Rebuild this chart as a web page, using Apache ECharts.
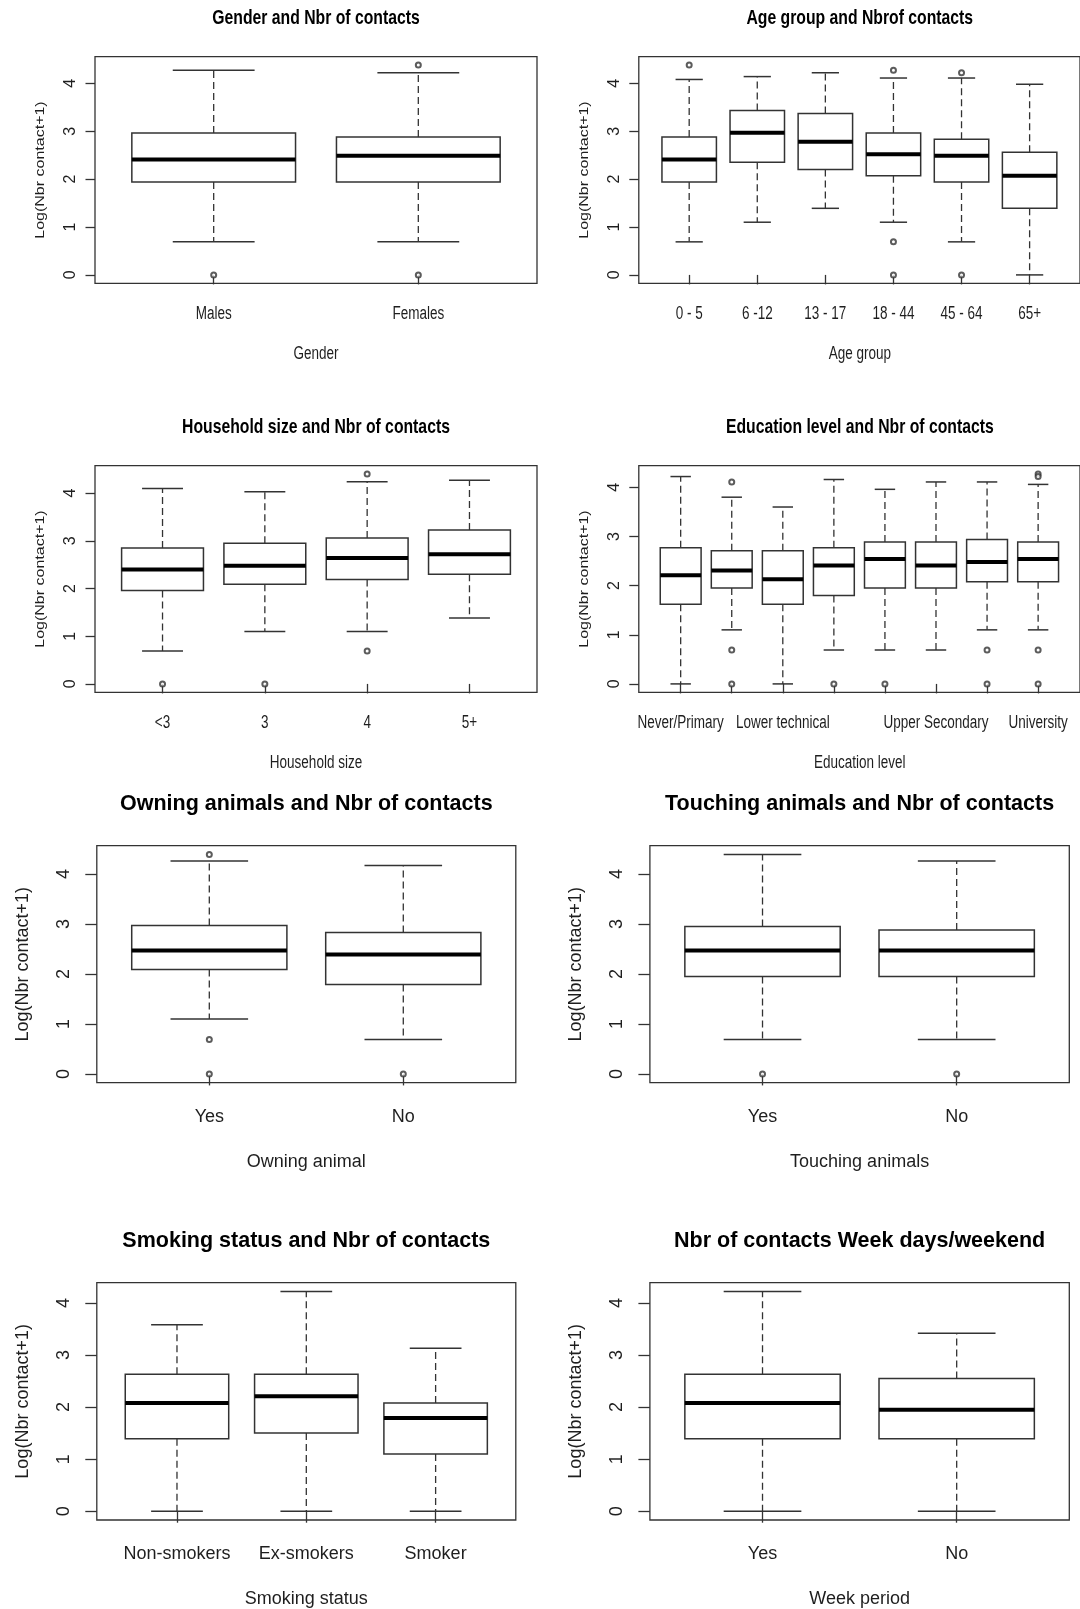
<!DOCTYPE html>
<html>
<head>
<meta charset="utf-8">
<script src="https://cdn.jsdelivr.net/npm/echarts@6/dist/echarts.min.js"></script>
<style>
  html, body { margin: 0; padding: 0; background: #fff; }
  #chart { width: 1080px; height: 1609px; }
</style>
</head>
<body>
<div id="chart"></div>
<script>
// Box statistics per group: [lower whisker, Q1, median, Q3, upper whisker]
// Values are log(number of contacts + 1).

const genderCats = ['Males', 'Females'];
const genderBoxes = [
  [0.69, 1.94, 2.41, 2.96, 4.27],
  [0.69, 1.94, 2.49, 2.88, 4.22]
];
const genderOutliers = [[0], [0, 4.38]];

const ageCats = ['0 - 5', '6 -12', '13 - 17', '18 - 44', '45 - 64', '65+'];
const ageBoxes = [
  [0.69, 1.94, 2.41, 2.88, 4.08],
  [1.10, 2.35, 2.97, 3.43, 4.14],
  [1.39, 2.20, 2.78, 3.37, 4.22],
  [1.10, 2.07, 2.52, 2.96, 4.11],
  [0.69, 1.94, 2.49, 2.83, 4.11],
  [0.00, 1.39, 2.07, 2.56, 3.98]
];
const ageOutliers = [[4.38], [], [], [4.27, 0.69, 0], [4.22, 0], []];

const householdCats = ['<3', '3', '4', '5+'];
const householdBoxes = [
  [0.69, 1.96, 2.40, 2.85, 4.10],
  [1.10, 2.09, 2.48, 2.95, 4.03],
  [1.10, 2.19, 2.64, 3.06, 4.24],
  [1.38, 2.30, 2.72, 3.23, 4.27]
];
const householdOutliers = [[0], [0], [4.40, 0.69], []];

// Only some education levels carry a printed label on the axis
const educationTickLabels = ['Never/Primary', '', 'Lower technical', '', '', 'Upper Secondary', '', 'University'];
const educationBoxes = [
  [0.00, 1.62, 2.21, 2.77, 4.22],
  [1.10, 1.95, 2.31, 2.71, 3.80],
  [0.00, 1.62, 2.13, 2.71, 3.60],
  [0.69, 1.80, 2.41, 2.77, 4.16],
  [0.69, 1.95, 2.54, 2.89, 3.96],
  [0.69, 1.95, 2.41, 2.89, 4.11],
  [1.10, 2.08, 2.48, 2.94, 4.11],
  [1.10, 2.08, 2.54, 2.89, 4.06]
];
const educationOutliers = [[], [4.11, 0.69, 0], [], [0], [0], [], [0.69, 0], [4.27, 4.22, 0.69, 0]];

const owningCats = ['Yes', 'No'];
const owningBoxes = [
  [1.10, 2.09, 2.47, 2.97, 4.26],
  [0.69, 1.79, 2.39, 2.83, 4.17]
];
const owningOutliers = [[4.39, 0.69, 0], [0]];

const touchingCats = ['Yes', 'No'];
const touchingBoxes = [
  [0.69, 1.95, 2.47, 2.95, 4.39],
  [0.69, 1.95, 2.47, 2.88, 4.26]
];
const touchingOutliers = [[0], [0]];

const smokingCats = ['Non-smokers', 'Ex-smokers', 'Smoker'];
const smokingBoxes = [
  [0.00, 1.39, 2.08, 2.63, 3.58],
  [0.00, 1.50, 2.21, 2.63, 4.22],
  [0.00, 1.10, 1.79, 2.08, 3.13]
];
const smokingOutliers = [[], [], []];

const weekCats = ['Yes', 'No'];
const weekBoxes = [
  [0.00, 1.39, 2.08, 2.63, 4.22],
  [0.00, 1.39, 1.95, 2.55, 3.42]
];
const weekOutliers = [[], []];

const yTicks = [0, 1, 2, 3, 4];
const yAxisTitle = 'Log(Nbr contact+1)';

// ---- styling ----
const INK = '#333';
const TEXT = '#1e1e1e';
const SANS = "'Liberation Sans', Arial, sans-serif";
const BOX_HALF = 0.4;     // half box width in category units
const CAP_HALF = 0.2;     // half staple width

// The upper four panels use horizontally compressed lettering (squash < 1);
// their titles, tick labels and axis titles are drawn as scaled text overlays.
const compact = { squash: 0.75, titleSize: 21, labelSize: 18, ySize: 16,
  tick: 9.5, yLabelMargin: 16, titleY: -38.5, labelY: 30.5, nameY: 70.5, yNameX: -54.5 };
const wide = { squash: 1, titleSize: 21.5, labelSize: 18, ySize: 18,
  tick: 11.5, yLabelMargin: 24, yNameGap: 65, xLabelMargin: 25, xNameGap: 70, titleOffset: 53 };

const panels = [
  { title: 'Gender and Nbr of contacts', xName: 'Gender', cats: genderCats, boxes: genderBoxes, outliers: genderOutliers,
    left: 95, top: 56.7, width: 442, height: 226.6, s: compact },
  { title: 'Age group and Nbrof contacts', xName: 'Age group', cats: ageCats, boxes: ageBoxes, outliers: ageOutliers,
    left: 638.8, top: 56.7, width: 442, height: 226.6, s: compact },
  { title: 'Household size and Nbr of contacts', xName: 'Household size', cats: householdCats, boxes: householdBoxes, outliers: householdOutliers,
    left: 95, top: 465.7, width: 442, height: 226.6, s: compact },
  { title: 'Education level and Nbr of contacts', xName: 'Education level', cats: educationTickLabels, boxes: educationBoxes, outliers: educationOutliers,
    left: 638.8, top: 465.7, width: 442, height: 226.6, s: compact },
  { title: 'Owning animals and Nbr of contacts', xName: 'Owning animal', cats: owningCats, boxes: owningBoxes, outliers: owningOutliers,
    left: 96.8, top: 845.7, width: 419, height: 237, s: wide },
  { title: 'Touching animals and Nbr of contacts', xName: 'Touching animals', cats: touchingCats, boxes: touchingBoxes, outliers: touchingOutliers,
    left: 649.9, top: 845.7, width: 419.4, height: 237, s: wide },
  { title: 'Smoking status and Nbr of contacts', xName: 'Smoking status', cats: smokingCats, boxes: smokingBoxes, outliers: smokingOutliers,
    left: 96.8, top: 1282.7, width: 419, height: 237.3, s: wide },
  { title: 'Nbr of contacts Week days/weekend', xName: 'Week period', cats: weekCats, boxes: weekBoxes, outliers: weekOutliers,
    left: 649.9, top: 1282.7, width: 419.4, height: 237.3, s: wide }
];

// Box-and-whisker glyph in the classic style: dashed whiskers, staples, heavy median
function renderBox(params, api) {
  const x = api.value(0);
  const lo = api.coord([x, api.value(1)]);
  const q1 = api.coord([x, api.value(2)]);
  const md = api.coord([x, api.value(3)]);
  const q3 = api.coord([x, api.value(4)]);
  const hi = api.coord([x, api.value(5)]);
  const half = api.size([BOX_HALF, 0])[0];
  const cap = api.size([CAP_HALF, 0])[0];
  const cx = md[0];
  const solid = { stroke: INK, lineWidth: 1.5 };
  const dashed = { stroke: INK, lineWidth: 1.3, lineDash: [7, 4] };
  return {
    type: 'group',
    children: [
      { type: 'line', shape: { x1: cx, y1: q3[1], x2: cx, y2: hi[1] }, style: dashed },
      { type: 'line', shape: { x1: cx, y1: q1[1], x2: cx, y2: lo[1] }, style: dashed },
      { type: 'line', shape: { x1: cx - cap, y1: hi[1], x2: cx + cap, y2: hi[1] }, style: solid },
      { type: 'line', shape: { x1: cx - cap, y1: lo[1], x2: cx + cap, y2: lo[1] }, style: solid },
      { type: 'rect', shape: { x: cx - half, y: q3[1], width: 2 * half, height: q1[1] - q3[1] },
        style: { fill: '#fff', stroke: INK, lineWidth: 1.5 } },
      { type: 'line', shape: { x1: cx - half, y1: md[1], x2: cx + half, y2: md[1] },
        style: { stroke: '#000', lineWidth: 4 } }
    ]
  };
}

const option = {
  backgroundColor: '#fff',
  animation: false,
  title: [], grid: [], xAxis: [], yAxis: [], series: []
};

panels.forEach((p, i) => {
  const n = p.boxes.length;
  const s = p.s;
  const compressed = s.squash < 1;
  p.positions = p.boxes.map((_, k) => k + 1);

  // y range: data range padded by 4% on each side
  let lo = Infinity, hi = -Infinity;
  p.boxes.forEach((b, k) => {
    lo = Math.min(lo, b[0], ...p.outliers[k]);
    hi = Math.max(hi, b[4], ...p.outliers[k]);
  });
  const pad = 0.04 * (hi - lo);
  p.yMin = lo - pad;

  if (!compressed) {
    option.title.push({
      text: p.title,
      left: p.left + p.width / 2,
      top: p.top - s.titleOffset,
      textAlign: 'center',
      padding: 0,
      textStyle: { fontFamily: SANS, fontSize: s.titleSize, fontWeight: 'bold', color: '#000' }
    });
  }

  option.grid.push({
    left: p.left, top: p.top, width: p.width, height: p.height,
    show: true, borderColor: INK, borderWidth: 1.3, backgroundColor: 'transparent'
  });

  option.xAxis.push({
    type: 'value', gridIndex: i,
    min: 0.5 - 0.04 * n, max: n + 0.5 + 0.04 * n,
    axisLine: { show: false },
    splitLine: { show: false },
    axisTick: { show: true, inside: false, length: s.tick, customValues: p.positions,
      lineStyle: { color: INK, width: 1.3 } },
    axisLabel: {
      show: !compressed,
      customValues: p.positions, margin: s.xLabelMargin,
      formatter: v => p.cats[Math.round(v) - 1] || '',
      fontFamily: SANS, fontSize: s.labelSize, color: TEXT
    },
    name: compressed ? '' : p.xName, nameLocation: 'middle', nameGap: s.xNameGap,
    nameTextStyle: { fontFamily: SANS, fontSize: s.labelSize, color: TEXT }
  });

  option.yAxis.push({
    type: 'value', gridIndex: i,
    min: lo - pad, max: hi + pad,
    axisLine: { show: false },
    splitLine: { show: false },
    axisTick: { show: true, inside: false, length: s.tick, customValues: yTicks,
      lineStyle: { color: INK, width: 1.3 } },
    axisLabel: {
      customValues: yTicks, rotate: 90, margin: s.yLabelMargin,
      fontFamily: SANS, fontSize: s.ySize, color: TEXT
    },
    name: compressed ? '' : yAxisTitle, nameLocation: 'middle', nameRotate: 90, nameGap: s.yNameGap,
    nameTextStyle: { fontFamily: SANS, fontSize: s.ySize, color: TEXT }
  });

  option.series.push({
    type: 'custom', xAxisIndex: i, yAxisIndex: i,
    renderItem: renderBox,
    encode: { x: 0, y: [1, 2, 3, 4, 5] },
    data: p.boxes.map((b, k) => [p.positions[k], ...b]),
    z: 2
  });

  const pts = [];
  p.outliers.forEach((list, k) => list.forEach(v => pts.push([p.positions[k], v])));
  option.series.push({
    type: 'scatter', xAxisIndex: i, yAxisIndex: i,
    symbol: 'emptyCircle', symbolSize: 5,
    itemStyle: { color: INK, borderWidth: 1.2 },
    data: pts, z: 3
  });
});

const chart = echarts.init(document.getElementById('chart'), null, { renderer: 'canvas' });
chart.setOption(option);

// Compressed lettering for the upper panels, anchored on the axes' own pixel mapping
function squashedText(text, x, y, size, squash, opts) {
  return Object.assign({
    type: 'text', x: x, y: y, scaleX: squash, z: 10,
    style: { text: text, x: 0, y: 0, fontFamily: SANS, fontSize: size, fill: TEXT,
      align: 'center', verticalAlign: 'middle' }
  }, opts || {});
}

const overlay = [];
panels.forEach((p, i) => {
  const s = p.s;
  if (s.squash >= 1) return;
  const finder = { xAxisIndex: i, yAxisIndex: i };
  const base = chart.convertToPixel(finder, [p.positions[0], p.yMin]);
  const bottom = base[1];
  const cx = p.left + p.width / 2;

  const t = squashedText(p.title, cx, p.top + s.titleY, s.titleSize, s.squash);
  t.style.fontWeight = 'bold';
  t.style.fill = '#000';
  overlay.push(t);

  p.positions.forEach((pos, k) => {
    const label = p.cats[k];
    if (!label) return;
    const px = chart.convertToPixel(finder, [pos, p.yMin])[0];
    overlay.push(squashedText(label, px, bottom + s.labelY, s.labelSize, s.squash));
  });

  overlay.push(squashedText(p.xName, cx, bottom + s.nameY, s.labelSize, s.squash));

  // vertical axis title: compress its thickness, then turn it to read upwards
  const yName = squashedText(yAxisTitle, p.left + s.yNameX, p.top + p.height / 2, s.ySize, 1);
  yName.scaleX = 1;
  yName.scaleY = s.squash + 0.1;
  yName.rotation = Math.PI / 2;
  overlay.push(yName);
});
chart.setOption({ graphic: overlay });
</script>
</body>
</html>
